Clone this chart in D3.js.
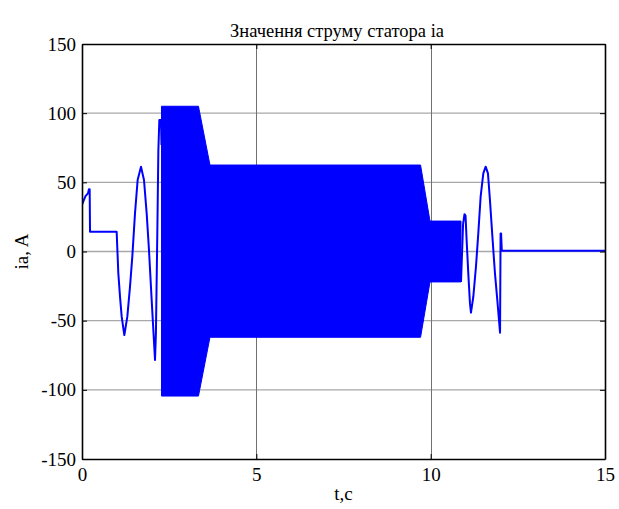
<!DOCTYPE html>
<html>
<head>
<meta charset="utf-8">
<script src="https://cdn.jsdelivr.net/npm/d3@7"></script>
<style>
	body { margin: 0; background: #fff; }
	svg text { font-family: "Liberation Serif", "Times New Roman", serif; fill: #000; }
</style>
</head>
<body>
<svg id="chart" width="619" height="509"></svg>
<script>
// start-up part (t in s, ia in A)
var startTime = [0, 0, 0.05, 0.1, 0.17, 0.2, 0.22, 0.23, 0.994,
	1.042, 1.09, 1.138, 1.214, 1.3, 1.377, 1.443, 1.52, 1.596, 1.692,
	1.778, 1.855, 1.921, 1.998, 2.046, 2.094, 2.12, 2.16, 2.19, 2.218, 2.265, 2.28];
var startCurrent = [0, 33.6, 37, 40, 42, 45, 45, 14.3, 14.3,
	-15.8, -32.6, -47.1, -60.4, -47.1, -25.4, -3.7, 27.6, 51.7, 61.3,
	51.7, 27.6, 1.1, -35, -56.7, -78.4, -59, 13, 73, 95, 95, 77];

// dense oscillating part, only its envelope is visible
var envTime = [2.28, 3.34, 3.67, 9.71, 9.98, 10.87];
var envUpper = [105, 105, 62.5, 62.5, 22, 22];
var envLower = [-104.5, -104.5, -62, -62, -22, -22];

// stopping part
var stopTime = [10.87, 10.93, 10.97, 11.0, 11.031, 11.079, 11.127, 11.156, 11.223,
	11.299, 11.366, 11.433, 11.51, 11.577, 11.643, 11.7, 11.777, 11.844, 11.911,
	11.959, 11.99, 12.005, 12.02, 12.04, 15];
var stopCurrent = [-22, 20, 27, 26, 8.3, -15.8, -37.5, -44.2, -32.7,
	-11, 13.1, 39.6, 56.5, 61.3, 56.5, 37.2, 8.3, -15.8, -35,
	-49.5, -58.7, 13, 13, 0.6, 0.6];

var xTicks = [0, 5, 10, 15];
var yTicks = [-150, -100, -50, 0, 50, 100, 150];

var pLeft = 82, pTop = 44, pRight = 605, pBottom = 459;
var svg = d3.select("#chart");

var x = d3.scaleLinear().domain([0, 15]).range([pLeft, pRight]);
var y = d3.scaleLinear().domain([-150, 150]).range([pBottom, pTop]);

// grid
svg.append("g").selectAll("line").data(yTicks.slice(1, -1)).enter().append("line")
	.attr("x1", pLeft).attr("x2", pRight)
	.attr("y1", function(d) { return y(d); })
	.attr("y2", function(d) { return y(d); })
	.style("stroke", "#a8a8a8").style("stroke-width", 1.4);
svg.append("g").selectAll("line").data(xTicks.slice(1, -1)).enter().append("line")
	.attr("x1", function(d) { return Math.round(x(d)) + 0.5; })
	.attr("x2", function(d) { return Math.round(x(d)) + 0.5; })
	.attr("y1", pTop).attr("y2", pBottom)
	.style("stroke", "#707070").style("stroke-width", 1);

svg.append("clipPath").attr("id", "plotClip").append("rect")
	.attr("x", pLeft).attr("y", pTop).attr("width", pRight - pLeft).attr("height", pBottom - pTop);

var plot = svg.append("g").attr("clip-path", "url(#plotClip)");

var area = d3.area()
	.x(function(d, i) { return x(envTime[i]); })
	.y0(function(d, i) { return y(envLower[i]); })
	.y1(function(d, i) { return y(envUpper[i]); });
plot.append("path")
	.datum(envTime)
	.attr("d", area)
	.style("fill", "#0000ff").style("stroke", "#0000ff").style("stroke-width", 1);

var line = d3.line()
	.x(function(d) { return x(d[0]); })
	.y(function(d) { return y(d[1]); });
[[startTime, startCurrent], [stopTime, stopCurrent]].forEach(function(s) {
	plot.append("path")
		.datum(d3.zip(s[0], s[1]))
		.attr("d", line)
		.style("fill", "none").style("stroke", "#0000ff")
		.style("stroke-width", 2).style("stroke-linejoin", "round");
});

// axes, ticks point inward like matlab
var fmt = function(d) { return String(d); };
var axes = [
	svg.append("g").attr("transform", "translate(0," + pBottom + ")")
		.call(d3.axisBottom(x).tickValues(xTicks).tickSizeInner(-5).tickSizeOuter(0).tickPadding(9).tickFormat(fmt)),
	svg.append("g").attr("transform", "translate(0," + pTop + ")")
		.call(d3.axisTop(x).tickValues(xTicks).tickSizeInner(-5).tickSizeOuter(0).tickFormat("")),
	svg.append("g").attr("transform", "translate(" + pLeft + ",0)")
		.call(d3.axisLeft(y).tickValues(yTicks).tickSizeInner(-5).tickSizeOuter(0).tickPadding(6).tickFormat(fmt)),
	svg.append("g").attr("transform", "translate(" + pRight + ",0)")
		.call(d3.axisRight(y).tickValues(yTicks).tickSizeInner(-5).tickSizeOuter(0).tickFormat(""))
];
axes.forEach(function(a) {
	a.select(".domain").style("stroke", "#000").style("stroke-width", 1.6);
	a.selectAll(".tick line").style("stroke", "#000");
	a.selectAll("text").style("font-size", "19px").style("font-family", "'Liberation Serif', serif");
});

svg.append("text")
	.attr("x", 337).attr("y", 37)
	.attr("text-anchor", "middle").style("font-size", "18.5px")
	.text("Значення струму статора ia");

svg.append("text")
	.attr("x", (pLeft + pRight) / 2).attr("y", 500)
	.attr("text-anchor", "middle").style("font-size", "19px")
	.text("t,c");

svg.append("text")
	.attr("transform", "translate(28," + ((pTop + pBottom) / 2) + ") rotate(-90)")
	.attr("text-anchor", "middle").style("font-size", "19px")
	.text("ia, A");
</script>
</body>
</html>
